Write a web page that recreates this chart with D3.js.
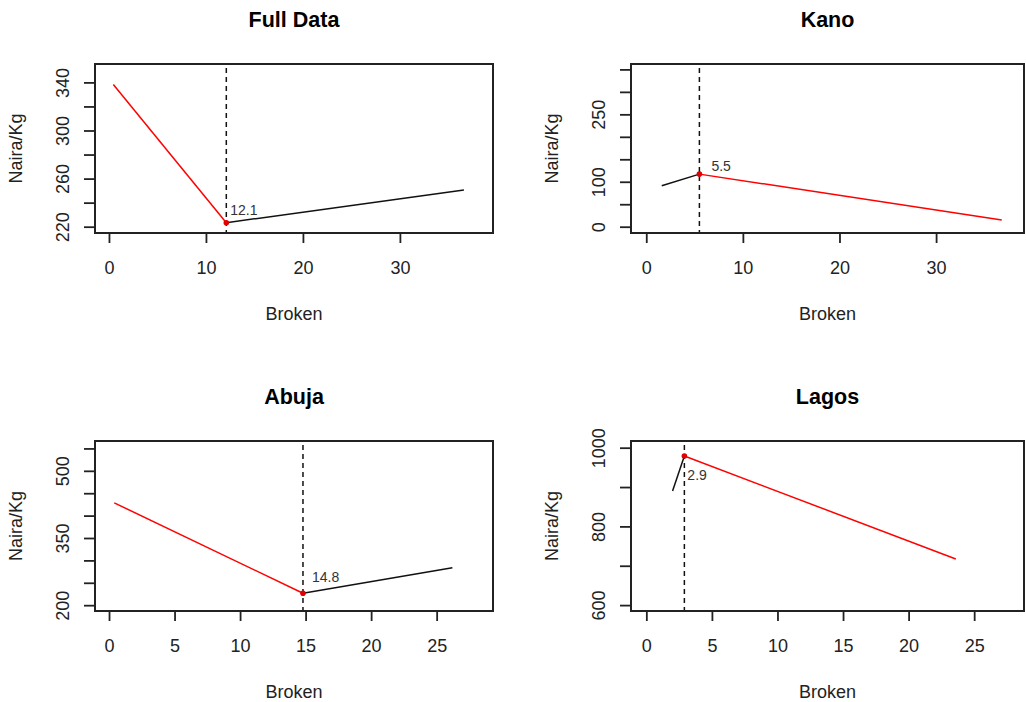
<!DOCTYPE html>
<html lang="en">
<head>
    <meta charset="UTF-8">
    <title>Broken-stick fits</title>
    <script src="https://d3js.org/d3.v7.min.js"></script>
    <style>
        body { margin: 0; background: #fff; }
        svg { font-family: "Liberation Sans", Arial, sans-serif; }
        .title { font-weight: bold; font-size: 21.5px; }
        .lab { font-size: 18px; }
        .tick text { font-size: 18px; fill: #222; }
        .tick line { stroke: #222; stroke-width: 1.8; }
        .bplab { font-size: 14px; fill: #333; }
    </style>
</head>
<body>
    <svg width="1026" height="702"></svg>

    <script>
        // data
        const panelNames = ["Full Data", "Kano", "Abuja", "Lagos"];
        const breakpoints = [12.1, 5.5, 14.8, 2.9];
        const leftSegX = [[0.45, 12.1], [1.6, 5.5], [0.4, 14.8], [2.0, 2.9]];
        const leftSegY = [[338.3, 223.3], [91, 117], [428.5, 226.7], [890, 979]];
        const rightSegX = [[12.1, 36.6], [5.5, 36.8], [14.8, 26.2], [2.9, 23.6]];
        const rightSegY = [[223.3, 250.6], [117, 15], [226.7, 283.7], [979, 717]];
        const xDomains = [[-1.44, 39.6], [-1.58, 39.1], [-1.07, 29.3], [-1.17, 28.8]];
        const yDomains = [[214.75, 355.3], [-14, 362], [187, 566.6], [585, 1017]];
        const xTicks = [[0, 10, 20, 30], [0, 10, 20, 30], [0, 5, 10, 15, 20, 25], [0, 5, 10, 15, 20, 25]];
        const yTicks = [
            [220, 240, 260, 280, 300, 320, 340],
            [0, 50, 100, 150, 200, 250, 300, 350],
            [200, 250, 300, 350, 400, 450, 500, 550],
            [600, 700, 800, 900, 1000]
        ];
        const yTickLabels = [[220, 260, 300, 340], [0, 100, 250], [200, 350, 500], [600, 800, 1000]];

        // layout + style per panel
        const boxes = [
            { x0: 95, x1: 493, y0: 64, y1: 233 },
            { x0: 631, x1: 1024, y0: 64, y1: 233 },
            { x0: 95, x1: 493, y0: 441, y1: 611 },
            { x0: 631, x1: 1024, y0: 441, y1: 611 }
        ];
        const segColors = [["#ff0000", "#111"], ["#111", "#ff0000"], ["#ff0000", "#111"], ["#111", "#ff0000"]];
        const labelOffset = [[4, -8], [12, -3], [9, -11], [3, 24]];

        const svg = d3.select("svg");
        const line = d3.line();

        panelNames.forEach((name, i) => {
            const b = boxes[i];
            const x = d3.scaleLinear().domain(xDomains[i]).range([b.x0, b.x1]);
            const y = d3.scaleLinear().domain(yDomains[i]).range([b.y1, b.y0]);
            const g = svg.append("g");

            // x axis
            const gx = g.append("g")
                .attr("transform", `translate(0,${b.y1})`)
                .call(d3.axisBottom(x).tickValues(xTicks[i]).tickSize(10).tickSizeOuter(0));
            gx.select(".domain").remove();
            gx.selectAll(".tick text").attr("y", 41).attr("dy", 0);

            // y axis, labels rotated, some skipped like R does
            const labs = yTickLabels[i];
            const gy = g.append("g")
                .attr("transform", `translate(${b.x0},0)`)
                .call(d3.axisLeft(y).tickValues(yTicks[i]).tickSize(11).tickSizeOuter(0)
                    .tickFormat(v => labs.includes(v) ? v : ""));
            gy.select(".domain").remove();
            gy.selectAll(".tick text")
                .attr("x", 0).attr("dy", 0)
                .attr("text-anchor", "middle")
                .attr("transform", "translate(-26,0) rotate(-90)");

            // dashed breakpoint line
            g.append("line")
                .attr("x1", x(breakpoints[i])).attr("x2", x(breakpoints[i]))
                .attr("y1", b.y0 + 4).attr("y2", b.y1)
                .attr("stroke", "#111")
                .attr("stroke-width", 1.5)
                .attr("stroke-dasharray", "5,4");

            // the two fitted segments
            const segs = [
                d3.zip(leftSegX[i], leftSegY[i]),
                d3.zip(rightSegX[i], rightSegY[i])
            ];
            segs.forEach((s, k) => {
                g.append("path")
                    .attr("d", line(s.map(p => [x(p[0]), y(p[1])])))
                    .attr("fill", "none")
                    .attr("stroke", segColors[i][k])
                    .attr("stroke-width", 1.5);
            });

            // breakpoint marker
            const bx = x(breakpoints[i]), by = y(leftSegY[i][1]);
            g.append("circle")
                .attr("cx", bx).attr("cy", by).attr("r", 2.8)
                .attr("fill", "#e00000");
            g.append("text")
                .attr("class", "bplab")
                .attr("x", bx + labelOffset[i][0])
                .attr("y", by + labelOffset[i][1])
                .text(breakpoints[i]);

            // box
            g.append("rect")
                .attr("x", b.x0).attr("y", b.y0)
                .attr("width", b.x1 - b.x0).attr("height", b.y1 - b.y0)
                .attr("fill", "none")
                .attr("stroke", "#222")
                .attr("stroke-width", 2);

            // titles and axis labels
            const cx = (b.x0 + b.x1) / 2;
            g.append("text").attr("class", "title")
                .attr("x", cx).attr("y", b.y0 - 37)
                .attr("text-anchor", "middle")
                .text(name);
            g.append("text").attr("class", "lab")
                .attr("x", cx).attr("y", b.y1 + 87)
                .attr("text-anchor", "middle")
                .attr("fill", "#222")
                .text("Broken");
            g.append("text").attr("class", "lab")
                .attr("transform", `translate(${b.x0 - 73},${(b.y0 + b.y1) / 2}) rotate(-90)`)
                .attr("text-anchor", "middle")
                .attr("fill", "#222")
                .text("Naira/Kg");
        });
    </script>
</body>
</html>
